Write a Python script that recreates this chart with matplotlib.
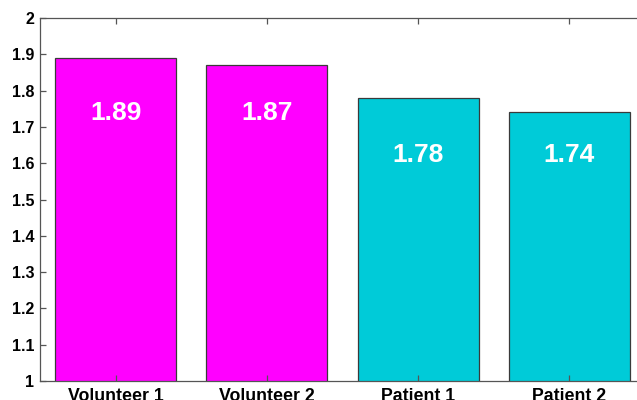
import matplotlib.pyplot as plt

groups = ["Volunteer 1", "Volunteer 2", "Patient 1", "Patient 2"]
values = [1.89, 1.87, 1.78, 1.74]
colors = ["#ff00ff", "#ff00ff", "#00cbd8", "#00cbd8"]
yticks = [1, 1.1, 1.2, 1.3, 1.4, 1.5, 1.6, 1.7, 1.8, 1.9, 2]
ytick_labels = ["1", "1.1", "1.2", "1.3", "1.4", "1.5", "1.6", "1.7", "1.8", "1.9", "2"]

# value labels sit at one height per group
label_y = [1.738, 1.738, 1.623, 1.623]

plt.rcParams['font.family'] = ['Liberation Sans', 'DejaVu Sans']

fig = plt.figure(figsize=(6.37, 4.0), dpi=100)
# axes run past the right edge, so the right border is cut off
ax = fig.add_axes([40 / 637, 19 / 400, 605 / 637, 363 / 400])

x = list(range(1, len(groups) + 1))
ax.bar(x, values, width=0.8, color=colors, edgecolor="#3a3a3a", linewidth=0.9)

for xi, v, ly in zip(x, values, label_y):
    ax.text(xi, ly, f"{v:.2f}", ha="center", va="center",
            color="white", fontsize=19, fontweight="bold")

ax.set_xlim(0.5, 4.5)
ax.set_ylim(1, 2)
ax.set_xticks(x)
ax.set_xticklabels(groups, fontsize=12.8, fontweight="bold")
ax.set_yticks(yticks)
ax.set_yticklabels(ytick_labels, fontsize=11.5, fontweight="bold")
ax.tick_params(axis="both", direction="in", length=4, width=0.9, color="#555555", pad=4)
ax.tick_params(axis="x", top=True, pad=5)
for s in ax.spines.values():
    s.set_color("#555555")
    s.set_linewidth(0.9)

fig.savefig("out.png", dpi=100)
